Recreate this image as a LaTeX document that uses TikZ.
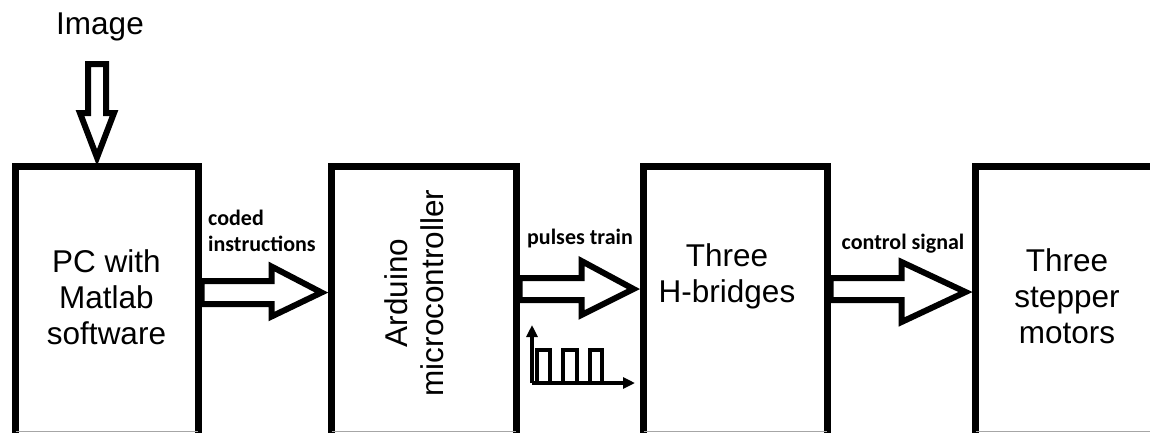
\documentclass[tikz,border=0pt]{standalone}
\usepackage{fontspec}
\setmainfont{Liberation Sans}
\newfontfamily\lblfont{Carlito}
\usetikzlibrary{calc,arrows.meta}
\begin{document}
\begin{tikzpicture}[x=1pt,y=-1pt,
  box/.style={draw=black, line width=7pt, minimum height=290pt, inner sep=0pt},
  boxtext/.style={font=\fontsize{31.5}{36}\selectfont, align=center, inner sep=0pt},
  lbl/.style={font=\lblfont\bfseries\fontsize{22}{26}\selectfont, align=left, inner sep=0pt},
  barrow/.style={draw=black, line width=6pt, line join=miter, miter limit=3, fill=white},
  thinaxis/.style={draw=black, line width=3.2pt, -{Triangle[length=12pt,width=11pt]}},
  pulse/.style={draw=black, line width=3.2pt},
  edge/.style={draw=black!35, line width=1pt}
]
\useasboundingbox (0,0) rectangle (1150,432);
\clip (0,0) rectangle (1150,432);

% boxes
\node[box, minimum width=183pt] (pc)  at (106.5,311) {};
\node[box, minimum width=185pt] (ard) at (423.5,311) {};
\node[box, minimum width=184pt] (hb)  at (735,311) {};
\node[box, minimum width=184pt] (sm)  at (1067,311) {};

% faint bottom edges
\draw[edge] ($(pc.west |- 0,431.5)+(4,0)$) -- ($(pc.east |- 0,431.5)+(-4,0)$);
\draw[edge] ($(ard.west |- 0,431.5)+(4,0)$) -- ($(ard.east |- 0,431.5)+(-4,0)$);
\draw[edge] ($(hb.west |- 0,431.5)+(4,0)$) -- ($(hb.east |- 0,431.5)+(-4,0)$);
\draw[edge] ($(sm.west |- 0,431.5)+(4,0)$) -- (1150,431.5);

% box texts
\node[boxtext] (pct) at (106.5,297) {PC with\\Matlab\\software};
\node[boxtext, rotate=90] (ardt) at (414,293) {Arduino\\microcontroller};
\node[boxtext] (hbt) at (727,276) {Three\\H-bridges};
\node[boxtext] (smt) at (1067,296) {Three\\stepper\\motors};

% input image
\node[font=\fontsize{31.5}{36}\selectfont, inner sep=0pt] (img) at (100,27) {Image};
\coordinate (i0) at (97,64);
\draw[barrow] ($(i0)+(-9,0)$) -- ($(i0)+(-9,49)$) -- ($(i0)+(-17,49)$)
  -- ($(i0 |- pc.north)+(0,-5)$) -- ($(i0)+(17,49)$) -- ($(i0)+(9,49)$)
  -- ($(i0)+(9,0)$) -- cycle;

% arrow 1: coded instructions
\coordinate (a1) at (pc.east |- 0,292.5);
\draw[barrow] ($(a1)+(0,-11.5)$) -- ($(a1)+(70,-11.5)$) -- ($(a1)+(70,-26)$)
  -- ($(ard.west |- a1)+(-6,0)$) -- ($(a1)+(70,24)$) -- ($(a1)+(70,11.5)$)
  -- ($(a1)+(0,11.5)$) -- cycle;
\node[lbl, anchor=west] (l1) at (208,231) {coded\\instructions};

% arrow 2: pulses train
\coordinate (a2) at (ard.east |- 0,289);
\draw[barrow] ($(a2)+(0,-11)$) -- ($(a2)+(62,-11)$) -- ($(a2)+(62,-28)$)
  -- ($(hb.west |- a2)+(-6,0)$) -- ($(a2)+(62,26)$) -- ($(a2)+(62,11)$)
  -- ($(a2)+(0,11)$) -- cycle;
\node[lbl] (l2) at (580,239) {pulses train};

% arrow 3: control signal
\coordinate (a3) at (hb.east |- 0,289);
\draw[barrow] ($(a3)+(0,-11)$) -- ($(a3)+(71,-11)$) -- ($(a3)+(71,-27)$)
  -- ($(sm.west |- a3)+(-6,3)$) -- ($(a3)+(71,33)$) -- ($(a3)+(71,11)$)
  -- ($(a3)+(0,11)$) -- cycle;
\node[lbl] (l3) at (903,244) {control signal};

% pulse train icon
\coordinate (o) at (532,383);
\draw[thinaxis] (o) -- ++(0,-58);
\draw[thinaxis] (o) -- ++(103,0);
\draw[pulse] (o) -- ++(5,0) -- ++(0,-33) -- ++(13,0) -- ++(0,33) -- ++(13,0)
  -- ++(0,-33) -- ++(14,0) -- ++(0,33) -- ++(13,0) -- ++(0,-33) -- ++(12,0) -- ++(0,33);
\end{tikzpicture}
\end{document}
